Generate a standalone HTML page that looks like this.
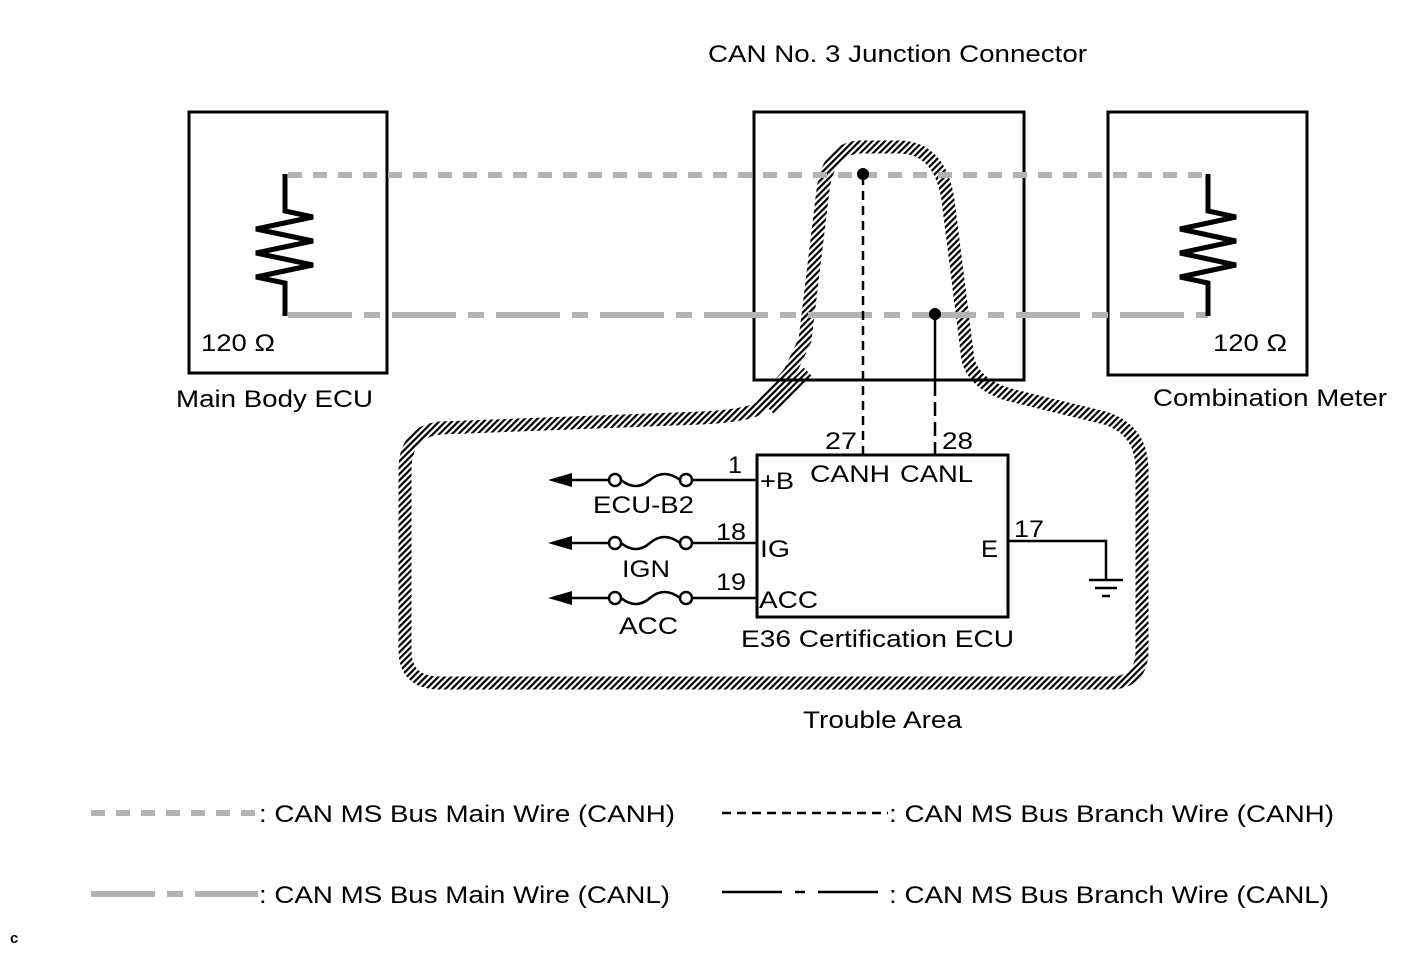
<!DOCTYPE html>
<html><head><meta charset="utf-8"><style>
html,body{margin:0;padding:0;background:#fff}
svg{display:block}
text{font-family:"Liberation Sans",Arial,sans-serif;font-size:24px;fill:#000}
</style></head><body>
<svg width="1424" height="959" viewBox="0 0 1424 959" xmlns="http://www.w3.org/2000/svg">
<defs>
<pattern id="h" width="4.5" height="4.5" patternUnits="userSpaceOnUse" patternTransform="rotate(45)">
<rect x="0" y="0" width="2.2" height="4.5" fill="#000"/>
</pattern>
</defs>
<path d="M790,372 L760,408 Q745,416 700,418 L440,428 Q405,432 405,470 L405,650 Q405,683 440,683 L1110,683 Q1142,683 1142,650 L1142,470 Q1142,430 1105,418 L1010,395 Q975,385 968,360 L948,200 Q940,148 900,147 L858,147 Q828,150 823,190 L805,340 Z" fill="none" stroke="url(#h)" stroke-width="13"/>
<path d="M808,372 L770,410" fill="none" stroke="url(#h)" stroke-width="12"/>

<g fill="none" stroke="#000" stroke-width="3">
<rect x="189" y="112" width="198" height="261"/>
<rect x="754" y="112" width="270" height="268"/>
<rect x="1108" y="112" width="199" height="263"/>
<rect x="757" y="455" width="251" height="162"/>
</g>
<line x1="288" y1="175" x2="1208" y2="175" stroke="#b3b3b3" stroke-width="6" stroke-dasharray="14 11"/>
<line x1="288" y1="315" x2="1208" y2="315" stroke="#b3b3b3" stroke-width="6" stroke-dasharray="64 12 16 12"/>
<g fill="none" stroke="#000" stroke-width="5" stroke-linejoin="miter">
<polyline points="285,174 285,211 313,217 256,229 313,241 256,253 313,265 256,277 285,283 285,316"/>
<polyline points="1208,174 1208,211 1236,217 1180,229 1236,241 1180,253 1236,265 1180,277 1208,283 1208,316"/>
</g>
<line x1="863" y1="176" x2="863" y2="455" stroke="#000" stroke-width="2.5" stroke-dasharray="9 6"/>
<line x1="935" y1="314" x2="935" y2="382" stroke="#000" stroke-width="2.5"/>
<line x1="935" y1="382" x2="935" y2="455" stroke="#000" stroke-width="2.5" stroke-dasharray="14 6"/>
<circle cx="863" cy="174" r="6"/>
<circle cx="935" cy="314" r="6"/>
<g fill="none" stroke="#000" stroke-width="2.5">
<line x1="565" y1="480" x2="609" y2="480"/><circle cx="615" cy="480" r="6" fill="#fff"/><path d="M621,480 Q636,492 650,480 Q664,468 680,480"/><circle cx="686" cy="480" r="6" fill="#fff"/><line x1="692" y1="480" x2="757" y2="480"/>
<line x1="565" y1="543" x2="609" y2="543"/><circle cx="615" cy="543" r="6" fill="#fff"/><path d="M621,543 Q636,555 650,543 Q664,531 680,543"/><circle cx="686" cy="543" r="6" fill="#fff"/><line x1="692" y1="543" x2="757" y2="543"/>
<line x1="565" y1="598" x2="609" y2="598"/><circle cx="615" cy="598" r="6" fill="#fff"/><path d="M621,598 Q636,610 650,598 Q664,586 680,598"/><circle cx="686" cy="598" r="6" fill="#fff"/><line x1="692" y1="598" x2="757" y2="598"/>
<polyline points="1008,541 1106,541 1106,580"/>
<line x1="1089" y1="580" x2="1123" y2="580"/>
<line x1="1095" y1="588" x2="1117" y2="588"/>
<line x1="1102" y1="596" x2="1110" y2="596"/>
</g>
<polygon points="548,480 572,473 572,487"/>
<polygon points="548,543 572,536 572,550"/>
<polygon points="548,598 572,591 572,605"/>
<g>
<text x="708" y="62" textLength="379" lengthAdjust="spacingAndGlyphs">CAN No. 3 Junction Connector</text>
<text x="201" y="351" textLength="74" lengthAdjust="spacingAndGlyphs">120 Ω</text>
<text x="1213" y="351" textLength="74" lengthAdjust="spacingAndGlyphs">120 Ω</text>
<text x="176" y="407" textLength="197" lengthAdjust="spacingAndGlyphs">Main Body ECU</text>
<text x="1153" y="406" textLength="234" lengthAdjust="spacingAndGlyphs">Combination Meter</text>
<text x="825" y="449" textLength="32" lengthAdjust="spacingAndGlyphs">27</text>
<text x="942" y="449" textLength="31" lengthAdjust="spacingAndGlyphs">28</text>
<text x="810" y="482" textLength="80" lengthAdjust="spacingAndGlyphs">CANH</text>
<text x="900" y="482" textLength="73" lengthAdjust="spacingAndGlyphs">CANL</text>
<text x="728" y="473" textLength="14" lengthAdjust="spacingAndGlyphs">1</text>
<text x="760" y="489" textLength="34" lengthAdjust="spacingAndGlyphs">+B</text>
<text x="593" y="513" textLength="101" lengthAdjust="spacingAndGlyphs">ECU-B2</text>
<text x="716" y="540" textLength="30" lengthAdjust="spacingAndGlyphs">18</text>
<text x="760" y="557" textLength="30" lengthAdjust="spacingAndGlyphs">IG</text>
<text x="622" y="577" textLength="48" lengthAdjust="spacingAndGlyphs">IGN</text>
<text x="716" y="590" textLength="30" lengthAdjust="spacingAndGlyphs">19</text>
<text x="759" y="608" textLength="59" lengthAdjust="spacingAndGlyphs">ACC</text>
<text x="619" y="634" textLength="59" lengthAdjust="spacingAndGlyphs">ACC</text>
<text x="1014" y="537" textLength="30" lengthAdjust="spacingAndGlyphs">17</text>
<text x="981" y="557" textLength="17" lengthAdjust="spacingAndGlyphs">E</text>
<text x="741" y="647" textLength="273" lengthAdjust="spacingAndGlyphs">E36 Certification ECU</text>
<text x="803" y="728" textLength="159" lengthAdjust="spacingAndGlyphs">Trouble Area</text>
</g>
<line x1="91" y1="813" x2="258" y2="813" stroke="#b3b3b3" stroke-width="6" stroke-dasharray="14 11"/>
<text x="259" y="822" textLength="416" lengthAdjust="spacingAndGlyphs">: CAN MS Bus Main Wire (CANH)</text>
<line x1="91" y1="894" x2="258" y2="894" stroke="#b3b3b3" stroke-width="6" stroke-dasharray="64 12 16 12"/>
<text x="259" y="903" textLength="411" lengthAdjust="spacingAndGlyphs">: CAN MS Bus Main Wire (CANL)</text>
<line x1="722" y1="813" x2="888" y2="813" stroke="#000" stroke-width="2.5" stroke-dasharray="9 6"/>
<text x="889" y="822" textLength="445" lengthAdjust="spacingAndGlyphs">: CAN MS Bus Branch Wire (CANH)</text>
<line x1="722" y1="892" x2="888" y2="892" stroke="#000" stroke-width="2.5" stroke-dasharray="60 13 10 13"/>
<text x="889" y="903" textLength="440" lengthAdjust="spacingAndGlyphs">: CAN MS Bus Branch Wire (CANL)</text>
<text x="10" y="943" style="font-size:15px;font-weight:bold">c</text>
</svg>
</body></html>
